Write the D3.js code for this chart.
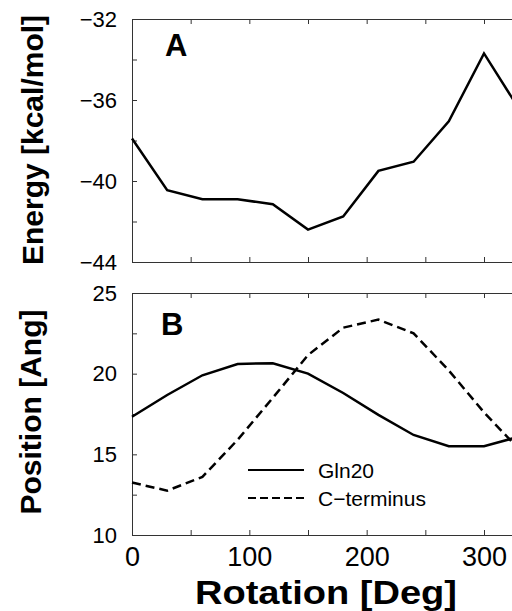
<!DOCTYPE html>
<html lang="en">
<head>
  <meta charset="UTF-8">
  <title>Energy and Position vs Rotation</title>
  <style>
    body { margin: 0; background: #fff; }
    svg { display: block; font-family: "Liberation Sans", Arial, sans-serif; }
    .axis path, .axis line { stroke: #333; stroke-width: 1; }
    .axis text { fill: #000; }
    .curve { fill: none; stroke: #000; stroke-width: 2.5; stroke-linejoin: miter; }
  </style>
</head>
<body>
  <div id="chart"></div>

  <script src="https://d3js.org/d3.v7.min.js"></script>
  <script>
    // Data
    const angles = [0, 30, 60, 90, 120, 150, 180, 210, 240, 270, 300, 330];
    const energy = [-37.9, -40.45, -40.9, -40.9, -41.15, -42.4, -41.75, -39.5, -39.05, -37.05, -33.7, -36.45];
    const gln20 = [17.33, 18.68, 19.9, 20.6, 20.65, 20.0, 18.8, 17.45, 16.2, 15.5, 15.5, 16.1];
    const cterm = [13.25, 12.75, 13.6, 15.9, 18.5, 21.15, 22.85, 23.35, 22.5, 20.2, 17.6, 15.3];

    const xTicks = [0, 50, 100, 150, 200, 250, 300, 350];
    const xLabels = [0, 100, 200, 300];
    const energyTicks = [-44, -42, -40, -38, -36, -34, -32];
    const energyLabels = [-44, -40, -36, -32];
    const posTicks = [10, 12.5, 15, 17.5, 20, 22.5, 25];
    const posLabels = [10, 15, 20, 25];
    const seriesNames = ["Gln20", "C\u2212terminus"];

    const width = 512, height = 611;

    const svg = d3.select("#chart")
      .append("svg")
      .attr("width", width)
      .attr("height", height);

    svg.append("rect").attr("width", width).attr("height", height).attr("fill", "#fff");

    // Scales (plot runs past the right edge, like the cropped original)
    const x = d3.scaleLinear().domain([0, 360]).range([132, 554.4]);
    const yE = d3.scaleLinear().domain([-44, -32]).range([262, 19]);
    const yP = d3.scaleLinear().domain([10, 25]).range([535, 293]);

    const fmt = d3.format("");

    function frame(y, yTicks, yLabels, showXLabels) {
      const [y0, y1] = y.range();

      // left axis with inward ticks
      const left = svg.append("g")
        .attr("class", "axis")
        .attr("transform", `translate(${x(0)},0)`)
        .call(d3.axisLeft(y).tickValues(yTicks).tickSizeInner(-5).tickSizeOuter(0)
          .tickPadding(15)
          .tickFormat(d => yLabels.includes(d) ? fmt(d) : ""));
      left.selectAll("text").style("font-size", "22px");

      // bottom axis
      const bottom = svg.append("g")
        .attr("class", "axis")
        .attr("transform", `translate(0,${y0})`)
        .call(d3.axisBottom(x).tickValues(xTicks).tickSizeInner(-5).tickSizeOuter(0)
          .tickPadding(12)
          .tickFormat(d => showXLabels && xLabels.includes(d) ? fmt(d) : ""));
      bottom.selectAll("text").style("font-size", "27px");

      // top axis
      svg.append("g")
        .attr("class", "axis")
        .attr("transform", `translate(0,${y1})`)
        .call(d3.axisTop(x).tickValues(xTicks).tickSizeInner(-5).tickSizeOuter(0)
          .tickFormat(""));
    }

    frame(yE, energyTicks, energyLabels, false);
    frame(yP, posTicks, posLabels, true);

    // Curves
    const lineE = d3.line().x((d, i) => x(angles[i])).y(d => yE(d));
    const lineP = d3.line().x((d, i) => x(angles[i])).y(d => yP(d));

    svg.append("path").datum(energy).attr("class", "curve").attr("d", lineE);
    svg.append("path").datum(gln20).attr("class", "curve").attr("d", lineP);
    svg.append("path").datum(cterm).attr("class", "curve")
      .attr("stroke-dasharray", "9,5").attr("d", lineP);

    // Panel letters
    svg.append("text").attr("x", 165).attr("y", 56)
      .style("font-size", "31px").style("font-weight", "bold").text("A");
    svg.append("text").attr("x", 161).attr("y", 335)
      .style("font-size", "31px").style("font-weight", "bold").text("B");

    // Legend
    const legend = svg.append("g");
    seriesNames.forEach((name, i) => {
      const ly = 470 + i * 28;
      legend.append("line")
        .attr("x1", 248).attr("x2", 304).attr("y1", ly).attr("y2", ly)
        .attr("stroke", "#000").attr("stroke-width", 2)
        .attr("stroke-dasharray", i === 1 ? "8,4" : null);
      legend.append("text")
        .attr("x", 318).attr("y", ly + 8)
        .style("font-size", "21px")
        .text(name);
    });

    // Axis titles
    svg.append("text")
      .attr("transform", "translate(43,140) rotate(-90)")
      .attr("text-anchor", "middle")
      .style("font-size", "30px").style("font-weight", "bold")
      .text("Energy [kcal/mol]");

    svg.append("text")
      .attr("transform", "translate(41,412) rotate(-90)")
      .attr("text-anchor", "middle")
      .style("font-size", "30px").style("font-weight", "bold")
      .text("Position [Ang]");

    svg.append("text")
      .attr("x", 326).attr("y", 604)
      .attr("text-anchor", "middle")
      .attr("textLength", 262).attr("lengthAdjust", "spacingAndGlyphs")
      .style("font-size", "34px").style("font-weight", "bold")
      .text("Rotation [Deg]");
  </script>
</body>
</html>
